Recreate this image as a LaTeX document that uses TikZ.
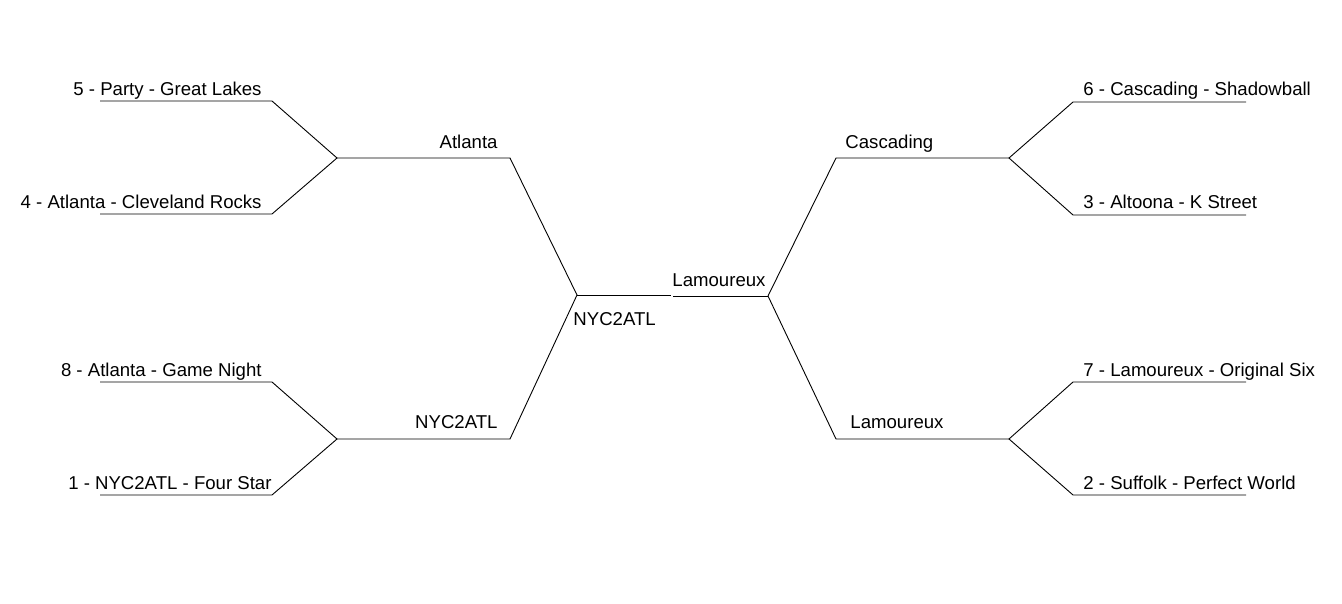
\documentclass[tikz,border=0pt]{standalone}
\usepackage{fontspec}
\setmainfont{Liberation Sans}
\usetikzlibrary{positioning}

\begin{document}
\begin{tikzpicture}[x=1pt,y=-1pt,line width=0.9pt,
    every node/.style={font=\fontsize{18.6}{22}\selectfont,inner sep=0pt},
    leftlbl/.style={anchor=base east},
    rightlbl/.style={anchor=base west}]

                \useasboundingbox (0,0) rectangle (1342,604);

                % left half
                \coordinate (a5) at (100,101); \coordinate (b5) at (272,101);
                \coordinate (a4) at (100,214); \coordinate (b4) at (272,214);
                \coordinate (a8) at (100,382); \coordinate (b8) at (272,382);
                \coordinate (a1) at (100,495); \coordinate (b1) at (272,495);
                \coordinate (jtl) at (337,158); \coordinate (etl) at (510,158);
                \coordinate (jbl) at (337,439); \coordinate (ebl) at (510,439);
                \coordinate (fl) at (577,295); \coordinate (fm) at (671,295);

                % right half
                \coordinate (a6) at (1246,102); \coordinate (b6) at (1073,102);
                \coordinate (a3) at (1246,215); \coordinate (b3) at (1073,215);
                \coordinate (a7) at (1246,382); \coordinate (b7) at (1073,382);
                \coordinate (a2) at (1246,495); \coordinate (b2) at (1073,495);
                \coordinate (jtr) at (1009,158); \coordinate (etr) at (836,158);
                \coordinate (jbr) at (1009,439); \coordinate (ebr) at (836,439);
                \coordinate (fr) at (768,296); \coordinate (fn) at (673,296);

                \draw (a5) -- (b5) -- (jtl) -- (b4) -- (a4);
                \draw (a8) -- (b8) -- (jbl) -- (b1) -- (a1);
                \draw (jtl) -- (etl) -- (fl) -- (ebl) -- (jbl);
                \draw (fl) -- (fm);
                \draw (a6) -- (b6) -- (jtr) -- (b3) -- (a3);
                \draw (a7) -- (b7) -- (jbr) -- (b2) -- (a2);
                \draw (jtr) -- (etr) -- (fr) -- (ebr) -- (jbr);
                \draw (fr) -- (fn);

                % first round
                \node[leftlbl] (t5) at (262,95.5) {5 - Party - Great Lakes};
                \node[leftlbl] (t4) at (262,208.5) {4 - Atlanta - Cleveland Rocks};
                \node[leftlbl] (t8) at (262,376.5) {8 - Atlanta - Game Night};
                \node[leftlbl] (t1) at (272,489.5) {1 - NYC2ATL - Four Star};
                \node[rightlbl] (t6) at (1083,96) {6 - Cascading - Shadowball};
                \node[rightlbl] (t3) at (1083,209) {3 - Altoona - K Street};
                \node[rightlbl] (t7) at (1083,376.5) {7 - Lamoureux - Original Six};
                \node[rightlbl] (t2) at (1083,489.5) {2 - Suffolk - Perfect World};

                % semis and final
                \node[leftlbl] (sa) at (498,149) {Atlanta};
                \node[leftlbl] (sn) at (498,428) {NYC2ATL};
                \node[rightlbl] (sc) at (845,149) {Cascading};
                \node[rightlbl] (sl) at (850,428) {Lamoureux};
                \node[rightlbl] (fw) at (672,287) {Lamoureux};
                \node[rightlbl] (fc) at (573,325.5) {NYC2ATL};

            \end{tikzpicture}
\end{document}
